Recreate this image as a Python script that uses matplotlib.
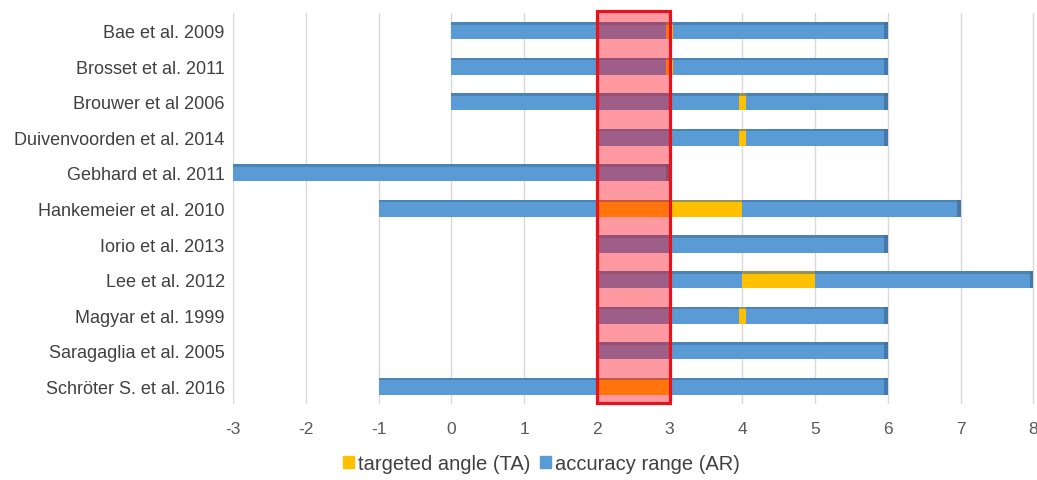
import matplotlib.pyplot as plt
import numpy as np
from matplotlib.patches import Rectangle

studies = ['Bae et al. 2009', 'Brosset et al. 2011', 'Brouwer et al 2006',
           'Duivenvoorden et al. 2014', 'Gebhard et al. 2011',
           'Hankemeier et al. 2010', 'Iorio et al. 2013', 'Lee et al. 2012',
           'Magyar et al. 1999', 'Saragaglia et al. 2005',
           'Schröter S. et al. 2016']
ar_start = [0, 0, 0, 2, -3, -1, 2, 2, 2, 2, -1]
ar_end = [6, 6, 6, 6, 3, 7, 6, 8, 6, 6, 6]
ta_start = [2.95, 2.95, 3.95, 3.95, np.nan, 2, np.nan, 4, 3.95, np.nan, 2]
ta_end = [3.05, 3.05, 4.05, 4.05, np.nan, 4, np.nan, 5, 4.05, np.nan, 3]
target_zone = [2, 3]
x_ticks = list(range(-3, 9))

blue = '#5b9bd5'
blue_dark = '#41719c'
yellow = '#ffc000'

plt.rcParams['font.family'] = ['Liberation Sans', 'DejaVu Sans']

fig = plt.figure(figsize=(10.37, 4.81), dpi=100)
ax = fig.add_axes([0.2247, 0.158, 0.7753, 0.813])

y = np.arange(len(studies))
ar_start = np.array(ar_start, float)
ar_end = np.array(ar_end, float)
ta_start = np.array(ta_start, float)
ta_end = np.array(ta_end, float)

h = 0.48
ax.barh(y, ar_end - ar_start, left=ar_start, height=h, color=blue, zorder=2)
ax.barh(y, ta_end - ta_start, left=ta_start, height=h, color=yellow, zorder=3)
# darker top strip and end cap for the Excel-style 3D look
ax.barh(y - h / 2 + 0.035, ar_end - ar_start, left=ar_start, height=0.07,
        color=blue_dark, zorder=4, alpha=0.55)
ax.barh(y, 0.05, left=ar_end - 0.05, height=h, color=blue_dark, zorder=4,
        alpha=0.8)

ax.set_xlim(-3, 8.05)
ax.set_ylim(10.5, -0.5)
ax.set_yticks(y)
ax.set_yticklabels(studies, fontsize=13, color='#404040')
ax.set_xticks(x_ticks)
ax.set_xticklabels([str(v) for v in x_ticks], fontsize=12.5, color='#595959')
ax.tick_params(axis='both', length=0)
ax.tick_params(axis='x', pad=12)
ax.tick_params(axis='y', pad=6)
ax.grid(axis='x', color='#d9d9d9', lw=1, zorder=0)
for s in ax.spines.values():
    s.set_visible(False)

# highlighted zone
ax.add_patch(Rectangle((target_zone[0], -0.55), target_zone[1] - target_zone[0],
                       11.02, facecolor=(1, 0.035, 0.11, 0.41),
                       edgecolor='#e3141b', lw=2.3, zorder=6, clip_on=False))

handles = [Rectangle((0, 0), 1, 1, color=yellow),
           Rectangle((0, 0), 1, 1, color=blue)]
fig.legend(handles, ['targeted angle (TA)', 'accuracy range (AR)'],
           loc='center', bbox_to_anchor=(0.522, 0.034), ncol=2, frameon=False,
           fontsize=14.5, handlelength=0.55, handleheight=0.55,
           handletextpad=0.2, columnspacing=0.5, labelcolor='#404040')

fig.savefig('out.png', dpi=100)
